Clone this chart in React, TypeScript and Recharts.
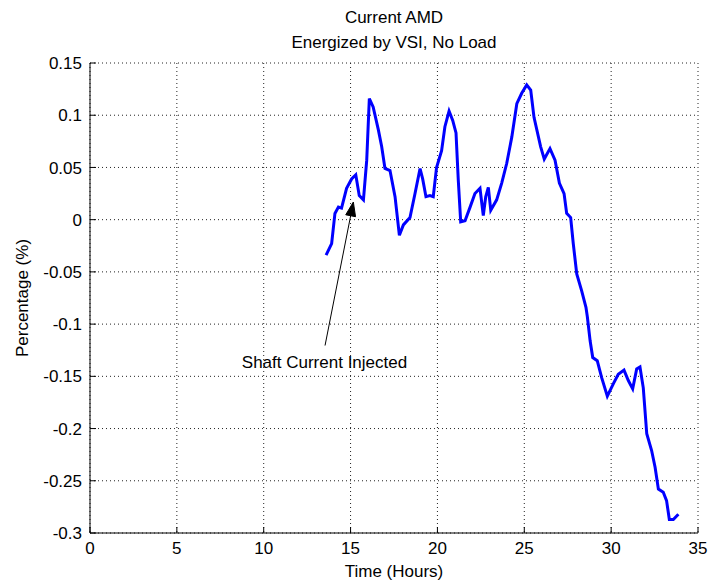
import React from 'react';
import { LineChart, Line, XAxis, YAxis, CartesianGrid, ReferenceLine, ReferenceDot } from 'recharts';

const hours = [
  13.59, 13.91, 14.1, 14.3, 14.48, 14.77, 15.06, 15.3, 15.5, 15.74, 15.8, 15.93, 16.08, 16.3, 16.6,
  16.79, 16.98, 17.27, 17.56, 17.81, 18.04, 18.42, 18.71, 19.0, 19.15, 19.34, 19.57, 19.76, 19.95,
  20.24, 20.43, 20.67, 20.88, 21.07, 21.2, 21.34, 21.59, 21.88, 22.16, 22.45, 22.64, 22.78, 22.93,
  23.07, 23.41, 23.7, 23.99, 24.28, 24.57, 24.85, 25.14, 25.37, 25.56, 25.94, 26.15, 26.48, 26.77,
  27.02, 27.29, 27.44, 27.67, 27.82, 28.02, 28.3, 28.55, 28.63, 28.79, 28.94, 29.2, 29.45, 29.78,
  30.13, 30.41, 30.74, 30.99, 31.24, 31.47, 31.66, 31.85, 32.05, 32.33, 32.53, 32.72, 33.0, 33.19,
  33.35, 33.58, 33.87,
];

const percent = [
  -0.034, -0.023, 0.006, 0.012, 0.011, 0.03, 0.039, 0.043, 0.023, 0.019, 0.031, 0.057, 0.116, 0.108, 0.086,
  0.07, 0.049, 0.047, 0.022, -0.015, -0.005, 0.002, 0.025, 0.049, 0.039, 0.022, 0.023, 0.022, 0.05,
  0.066, 0.089, 0.104, 0.095, 0.083, 0.038, -0.002, -0.001, 0.012, 0.025, 0.03, 0.004, 0.022, 0.031,
  0.009, 0.019, 0.035, 0.054, 0.079, 0.111, 0.121, 0.129, 0.124, 0.098, 0.07, 0.058, 0.068, 0.057,
  0.035, 0.025, 0.006, 0.002, -0.023, -0.052, -0.068, -0.084, -0.093, -0.116, -0.132, -0.135, -0.151, -0.169,
  -0.157, -0.148, -0.144, -0.154, -0.162, -0.143, -0.141, -0.161, -0.205, -0.221, -0.237, -0.258, -0.261, -0.269,
  -0.287, -0.287, -0.282,
];

const xTicks = [0, 5, 10, 15, 20, 25, 30, 35];
const yTicks = [-0.3, -0.25, -0.2, -0.15, -0.1, -0.05, 0, 0.05, 0.1, 0.15];
const titleLines = ['Current AMD', 'Energized by VSI, No Load'];
const xLabel = 'Time (Hours)';
const yLabel = 'Percentage (%)';
const annotationText = 'Shaft Current Injected';
const arrowTail = { x: 13.53, y: -0.1205 };
const arrowHead = { x: 15.16, y: 0.0169 };
const annotationPos = { x: 13.5, y: -0.1366 };

const data = hours.map((h, i) => ({ h, v: percent[i] }));

const FONT = '"Liberation Sans", Arial, Helvetica, sans-serif';
const FS = 17;
const GAP = 8;
const TL = 6;

const BottomTick = (p: any) => {
  const { x, y, payload } = p;
  return (
    <g>
      <line x1={x} x2={x} y1={y - GAP} y2={y - GAP - TL} stroke="#000" />
      <text x={x} y={y} dy="0.74em" textAnchor="middle" fontSize={FS} fontFamily={FONT} fill="#000">
        {payload.value}
      </text>
    </g>
  );
};

const TopTick = (p: any) => {
  const { x, y } = p;
  return <line x1={x} x2={x} y1={y + GAP} y2={y + GAP + TL} stroke="#000" />;
};

const LeftTick = (p: any) => {
  const { x, y, payload } = p;
  return (
    <g>
      <line x1={x + GAP} x2={x + GAP + TL} y1={y} y2={y} stroke="#000" />
      <text x={x} y={y} dy="0.36em" textAnchor="end" fontSize={FS} fontFamily={FONT} fill="#000">
        {String(payload.value)}
      </text>
    </g>
  );
};

const RightTick = (p: any) => {
  const { x, y } = p;
  return <line x1={x - GAP} x2={x - GAP - TL} y1={y} y2={y} stroke="#000" />;
};

const ArrowShape = (p: any) => {
  const { x1, y1, x2, y2 } = p;
  const ang = Math.atan2(y2 - y1, x2 - x1);
  const len = 14;
  const half = 5;
  const bx = x2 - len * Math.cos(ang);
  const by = y2 - len * Math.sin(ang);
  const nx = -Math.sin(ang);
  const ny = Math.cos(ang);
  const pts = `${x2},${y2} ${bx + half * nx},${by + half * ny} ${bx - half * nx},${by - half * ny}`;
  return (
    <g>
      <line x1={x1} y1={y1} x2={bx} y2={by} stroke="#000" strokeWidth={1} />
      <polygon points={pts} fill="#000" stroke="#000" />
    </g>
  );
};

const AnnotationShape = (p: any) => (
  <text x={p.cx} y={p.cy} dy="0.36em" textAnchor="middle" fontSize={FS} fontFamily={FONT} fill="#000">
    {annotationText}
  </text>
);

export default function App() {
  return (
    <div style={{ position: 'absolute', left: 0, top: 0, width: 709, height: 585, background: '#fff', fontFamily: FONT, color: '#000' }}>
      <div style={{ position: 'absolute', left: 0, top: 5, width: 788, textAlign: 'center', fontSize: FS, lineHeight: '25px' }}>
        {titleLines.map((t) => (
          <div key={t}>{t}</div>
        ))}
      </div>
      <div style={{ position: 'absolute', left: 0, top: 560, width: 788, textAlign: 'center', fontSize: FS, lineHeight: '24px' }}>
        {xLabel}
      </div>
      <div
        style={{
          position: 'absolute',
          left: 23 - 100,
          top: 298 - 12,
          width: 200,
          height: 24,
          lineHeight: '24px',
          textAlign: 'center',
          fontSize: FS,
          transform: 'rotate(-90deg)',
        }}
      >
        {yLabel}
      </div>
      <div style={{ position: 'absolute', left: 0, top: 0 }}>
        <LineChart width={709} height={585} data={data} margin={{ top: 63, right: 11, bottom: 22, left: 30 }}>
          <CartesianGrid stroke="#222" strokeDasharray="1 3" />
          <XAxis
            dataKey="h"
            type="number"
            domain={[0, 35]}
            ticks={xTicks}
            height={30}
            tickSize={0}
            tickMargin={GAP}
            tick={<BottomTick />}
            axisLine={{ stroke: '#000' }}
            tickLine={false}
            interval={0}
          />
          <XAxis
            xAxisId="top"
            orientation="top"
            type="number"
            domain={[0, 35]}
            ticks={xTicks}
            height={0}
            tickSize={0}
            tickMargin={GAP}
            tick={<TopTick />}
            axisLine={{ stroke: '#000' }}
            tickLine={false}
            interval={0}
          />
          <YAxis
            type="number"
            domain={[-0.3, 0.15]}
            ticks={yTicks}
            width={60}
            tickSize={0}
            tickMargin={GAP}
            tick={<LeftTick />}
            axisLine={{ stroke: '#000' }}
            tickLine={false}
            interval={0}
          />
          <YAxis
            yAxisId="right"
            orientation="right"
            type="number"
            domain={[-0.3, 0.15]}
            ticks={yTicks}
            width={0}
            tickSize={0}
            tickMargin={GAP}
            tick={<RightTick />}
            axisLine={{ stroke: '#000' }}
            tickLine={false}
            interval={0}
          />
          <Line
            type="linear"
            dataKey="v"
            stroke="#0000ff"
            strokeWidth={3}
            dot={false}
            isAnimationActive={false}
          />
          <ReferenceLine segment={[arrowTail, arrowHead]} shape={<ArrowShape />} />
          <ReferenceDot x={annotationPos.x} y={annotationPos.y} r={1} shape={<AnnotationShape />} />
        </LineChart>
      </div>
    </div>
  );
}
